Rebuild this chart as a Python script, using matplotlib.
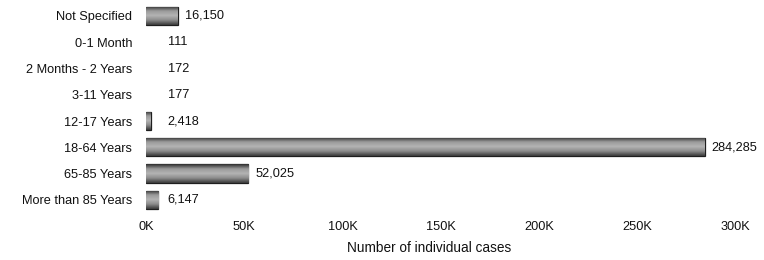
import numpy as np
import matplotlib
matplotlib.use('Agg')
import matplotlib.pyplot as plt
from matplotlib.colors import LinearSegmentedColormap
from matplotlib.ticker import FuncFormatter

plt.rcParams['font.family'] = ['Liberation Sans', 'DejaVu Sans']

# data
categories = ['Not Specified', '0-1 Month', '2 Months - 2 Years', '3-11 Years',
              '12-17 Years', '18-64 Years', '65-85 Years', 'More than 85 Years']
cases = [16150, 111, 172, 177, 2418, 284285, 52025, 6147]
x_ticks = [0, 50000, 100000, 150000, 200000, 250000, 300000]

fig = plt.figure(figsize=(7.64, 2.6), dpi=100)
ax = fig.add_axes([0.191, 0.181, 0.772, 0.808])

y = np.arange(len(categories))
bars = ax.barh(y, cases, height=0.7, color='#8c8c8c', edgecolor='#1e1e1e', linewidth=0.9)

# cylinder-like shading inside each bar
cmap = LinearSegmentedColormap.from_list('shade', ['#2e2e2e', '#9a9a9a', '#b4b4b4', '#8a8a8a', '#3a3a3a'])
grad = np.linspace(0, 1, 64).reshape(-1, 1)
for b in bars:
    x0, yb = b.get_x(), b.get_y()
    w, h = b.get_width(), b.get_height()
    if w < 1000:
        # too thin to show up in the original
        b.set_linewidth(0)
        b.set_facecolor('none')
        continue
    im = ax.imshow(grad, cmap=cmap, aspect='auto', extent=(x0, x0 + w, yb + h, yb),
                   zorder=b.get_zorder() + 0.1)
    im.set_clip_path(b)

for yi, v in zip(y, cases):
    ax.annotate(f'{v:,}', xy=(max(v, 7500), yi), xytext=(5, 0), textcoords='offset points',
                va='center', ha='left', fontsize=9.2, color='#111111')

ax.set_xlim(0, 300000)
ax.set_ylim(len(categories) - 0.5, -0.5)
ax.set_yticks(y)
ax.set_yticklabels(categories, fontsize=9.2, color='#111111')
ax.set_xticks(x_ticks)
ax.xaxis.set_major_formatter(FuncFormatter(lambda v, p: f'{int(v / 1000)}K'))
ax.tick_params(axis='x', labelsize=9.2, length=0, pad=6, colors='#111111')
ax.tick_params(axis='y', length=0, pad=10)
for s in ax.spines.values():
    s.set_visible(False)
ax.set_xlabel('Number of individual cases', fontsize=9.8, color='#111111')
ax.xaxis.set_label_coords(0.48, -0.135)

fig.savefig('out.png', dpi=100)
